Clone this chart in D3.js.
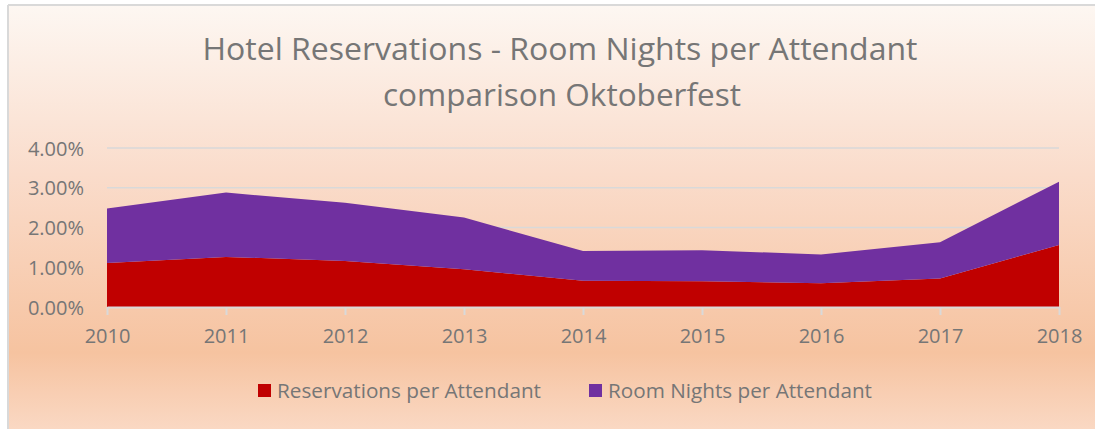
<!DOCTYPE html>
<html>
<head>
<meta charset="utf-8">
<script src="https://cdn.jsdelivr.net/npm/d3@7"></script>
<style>
  html, body { margin: 0; padding: 0; background: #ffffff; }
  svg { display: block; }
  text { font-family: "Open Sans", "DejaVu Sans", sans-serif; }
</style>
</head>
<body>
<svg id="chart" width="1095" height="429"></svg>
<script>
// Oktoberfest hotel data, share of attendants per year
const years = [2010, 2011, 2012, 2013, 2014, 2015, 2016, 2017, 2018];
const reservationsPerAttendant = [0.0111, 0.0126, 0.0116, 0.0095, 0.0066, 0.0065, 0.0060, 0.0072, 0.0156];
const roomNightsPerAttendant   = [0.0137, 0.0162, 0.0146, 0.0130, 0.0075, 0.0078, 0.0072, 0.0091, 0.0159];
const yTicks = [0, 0.01, 0.02, 0.03, 0.04];
const seriesNames = ["Reservations per Attendant", "Room Nights per Attendant"];
const seriesColors = ["#C00000", "#7030A0"];
const titleLines = ["Hotel Reservations - Room Nights per Attendant", "comparison Oktoberfest"];

const W = 1095, H = 429;
const svg = d3.select("#chart");
const textColor = "#767676";
const gridColor = "#d9d9d9";

// Chart background with a soft peach gradient
const defs = svg.append("defs");
const grad = defs.append("linearGradient")
  .attr("id", "bg").attr("x1", 0).attr("y1", 0).attr("x2", 0).attr("y2", 1);
[[0, "#fdf7f2"], [0.4, "#fadccb"], [0.82, "#f6c3a0"], [1, "#fad8c3"]]
  .forEach(([o, c]) => grad.append("stop").attr("offset", o).attr("stop-color", c));

svg.append("rect").attr("x", 8).attr("y", 5).attr("width", W - 8).attr("height", H - 5)
  .attr("fill", "url(#bg)");
svg.append("line").attr("x1", 8).attr("x2", W).attr("y1", 5).attr("y2", 5)
  .attr("stroke", gridColor).attr("stroke-width", 2);
svg.append("line").attr("x1", 8).attr("x2", 8).attr("y1", 5).attr("y2", H)
  .attr("stroke", gridColor).attr("stroke-width", 2);

// Title
const title = svg.append("text").attr("text-anchor", "middle")
  .attr("fill", textColor).attr("font-size", 31);
title.append("tspan").attr("x", 560).attr("y", 60)
  .attr("textLength", 715).attr("lengthAdjust", "spacingAndGlyphs").text(titleLines[0]);
title.append("tspan").attr("x", 562).attr("y", 106)
  .attr("textLength", 358).attr("lengthAdjust", "spacingAndGlyphs").text(titleLines[1]);

// Scales
const x = d3.scalePoint().domain(years).range([107, 1059]);
const y = d3.scaleLinear().domain([0, 0.04]).range([307, 148]);

// Horizontal gridlines
svg.append("g").selectAll("line").data(yTicks.filter(t => t > 0)).join("line")
  .attr("x1", x.range()[0]).attr("x2", x.range()[1])
  .attr("y1", d => y(d)).attr("y2", d => y(d))
  .attr("stroke", gridColor).attr("stroke-width", 1.5);

// Stacked areas
const rows = years.map((yr, i) => ({
  year: yr,
  [seriesNames[0]]: reservationsPerAttendant[i],
  [seriesNames[1]]: roomNightsPerAttendant[i]
}));
const stacked = d3.stack().keys(seriesNames)(rows);
const area = d3.area()
  .x(d => x(d.data.year))
  .y0(d => y(d[0]))
  .y1(d => y(d[1]));
svg.append("g").selectAll("path").data(stacked).join("path")
  .attr("d", area)
  .attr("fill", (d, i) => seriesColors[i]);

// Y axis (labels only)
const yAxis = d3.axisLeft(y).tickValues(yTicks).tickFormat(d3.format(".2%")).tickSize(0).tickPadding(0);
const gy = svg.append("g").attr("transform", "translate(84,0)").call(yAxis);
gy.select(".domain").remove();
gy.selectAll("text").attr("fill", textColor).attr("font-size", 20)
  .attr("font-family", '"Open Sans", sans-serif').attr("dy", "0.35em");

// X axis
const xAxis = d3.axisBottom(x).tickSize(8).tickPadding(14).tickSizeOuter(0);
const gx = svg.append("g").attr("transform", "translate(0,307)").call(xAxis);
gx.select(".domain").attr("stroke", gridColor).attr("stroke-width", 2);
gx.selectAll(".tick line").attr("stroke", gridColor).attr("stroke-width", 2);
gx.selectAll("text").attr("fill", textColor).attr("font-size", 20)
  .attr("font-family", '"Open Sans", sans-serif');

// Legend
const legendX = [258, 589];
const legendW = [264, 264];
const lg = svg.append("g").selectAll("g").data(seriesNames).join("g")
  .attr("transform", (d, i) => `translate(${legendX[i]},384)`);
lg.append("rect").attr("width", 13).attr("height", 13)
  .attr("fill", (d, i) => seriesColors[i]);
lg.append("text").attr("x", 19).attr("y", 13.5)
  .attr("fill", textColor).attr("font-size", 20)
  .attr("textLength", (d, i) => legendW[i]).attr("lengthAdjust", "spacingAndGlyphs")
  .text(d => d);
</script>
</body>
</html>
